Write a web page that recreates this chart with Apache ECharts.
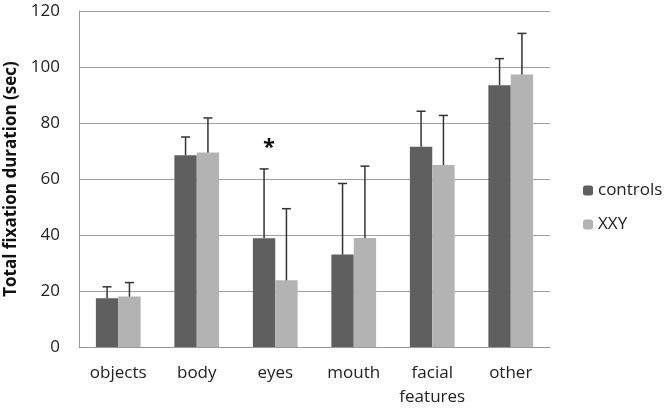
<!DOCTYPE html>
<html>
<head>
<meta charset="utf-8">
<script src="https://cdn.jsdelivr.net/npm/echarts@6/dist/echarts.min.js"></script>
<style>html,body{margin:0;padding:0;background:#fff}#c{width:666px;height:408px}</style>
</head>
<body>
<div id="c"></div>
<script>
var categories = ['objects', 'body', 'eyes', 'mouth', 'facial\nfeatures', 'other'];
var controlsMean = [17.4, 68.5, 38.8, 33.0, 71.5, 93.5];
var controlsSD   = [4.1, 6.5, 24.8, 25.4, 12.7, 9.5];
var xxyMean      = [18.0, 69.5, 23.8, 38.9, 65.0, 97.3];
var xxySD        = [5.0, 12.3, 25.6, 25.7, 17.7, 14.7];
var yTicks = [0, 20, 40, 60, 80, 100, 120];
var seriesNames = ['controls', 'XXY'];
var colors = ['#5f5f5f', '#b3b3b3'];
var GAP = 0.43;

function errData(mean, sd) {
  return mean.map(function (m, i) { return [i, m, sd[i]]; });
}
function errSeries(name, mean, sd, side) {
  return {
    type: 'custom', name: name + ' err', silent: true, z: 5,
    renderItem: function (params, api) {
      var i = api.value(0), m = api.value(1), s = api.value(2);
      var catW = api.size([1, 0])[0];
      var bw = catW * (1 - GAP) / 2;
      var base = api.coord([i, m]);
      var top = api.coord([i, m + s]);
      var x = base[0] + side * bw / 2;
      var cap = 4.5;
      var st = { stroke: '#333', lineWidth: 1.5 };
      return { type: 'group', children: [
        { type: 'line', shape: { x1: x, y1: base[1], x2: x, y2: top[1] }, style: st },
        { type: 'line', shape: { x1: x - cap, y1: top[1], x2: x + cap, y2: top[1] }, style: st }
      ]};
    },
    encode: { x: 0, y: 1 },
    data: errData(mean, sd)
  };
}

var chart = echarts.init(document.getElementById('c'));
chart.setOption({
  animation: false,
  color: colors,
  textStyle: { fontFamily: 'Open Sans' },
  grid: { left: 79, right: 116, top: 11, bottom: 61, containLabel: false, outerBoundsMode: 'none' },
  legend: {
    data: seriesNames, orient: 'vertical', left: 578, top: 177,
    itemWidth: 10, itemHeight: 10, itemGap: 17,
    textStyle: { fontSize: 17, color: '#222', fontFamily: 'Open Sans' }
  },
  xAxis: {
    type: 'category', data: categories,
    axisLine: { lineStyle: { color: '#999', width: 1 } },
    axisTick: { length: 5, lineStyle: { color: '#999' } },
    axisLabel: { fontSize: 17, color: '#222', margin: 14, lineHeight: 24, interval: 0 }
  },
  yAxis: {
    type: 'value', min: yTicks[0], max: yTicks[yTicks.length - 1], interval: 20,
    name: 'Total fixation duration (sec)', nameLocation: 'middle', nameGap: 53,
    nameTextStyle: { fontSize: 17, fontWeight: 'bold', color: '#111', fontFamily: 'Open Sans' },
    axisLine: { show: true, lineStyle: { color: '#999' } },
    axisTick: { show: false },
    splitLine: { lineStyle: { color: '#a0a0a0' } },
    axisLabel: { fontSize: 17, color: '#222', margin: 19 }
  },
  series: [
    { type: 'bar', name: seriesNames[0], data: controlsMean, barGap: '0%', barCategoryGap: (GAP * 100) + '%',
      markPoint: { symbol: 'circle', symbolSize: 0,
        label: { show: true, formatter: '*', fontSize: 22, color: '#111', fontWeight: 'bold', offset: [5, 0] },
        data: [{ coord: [2, 71] }] } },
    { type: 'bar', name: seriesNames[1], data: xxyMean, barGap: '0%', barCategoryGap: (GAP * 100) + '%' },
    errSeries(seriesNames[0], controlsMean, controlsSD, -1),
    errSeries(seriesNames[1], xxyMean, xxySD, 1)
  ]
});
</script>
</body>
</html>
